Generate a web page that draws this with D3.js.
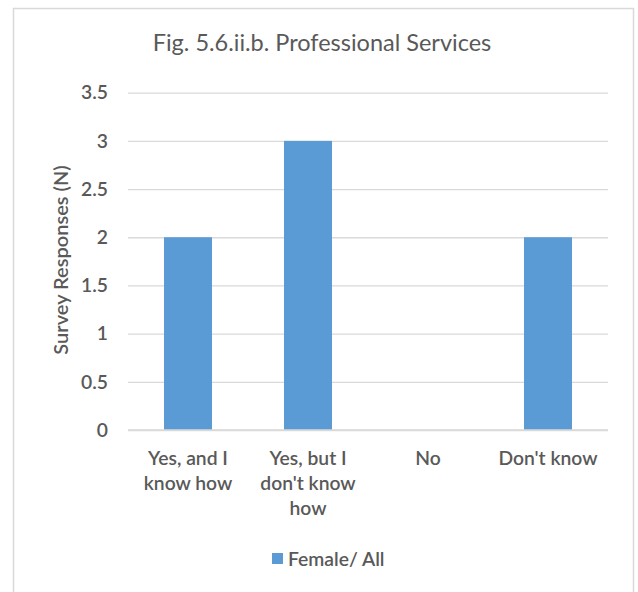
<!DOCTYPE html>
<html>
<head>
<meta charset="utf-8">
<script src="https://cdn.jsdelivr.net/npm/d3@7"></script>
<style>
  html, body { margin: 0; padding: 0; background: #fff; }
  svg { display: block; font-family: Lato, "Open Sans", sans-serif; }
</style>
</head>
<body>
<svg id="chart" width="638" height="592"></svg>
<script>
// Survey responses per answer
const categories = [["Yes, and I", "know how"], ["Yes, but I", "don't know", "how"], ["No"], ["Don't know"]];
const categoryKeys = ["Yes, and I know how", "Yes, but I don't know how", "No", "Don't know"];
const values = [2, 3, 0, 2];
const yTicks = [0, 0.5, 1, 1.5, 2, 2.5, 3, 3.5];
const yTickLabels = ["0", "0.5", "1", "1.5", "2", "2.5", "3", "3.5"];
const seriesName = "Female/ All";
const titleText = "Fig. 5.6.ii.b. Professional Services";
const yAxisTitle = "Survey Responses (N)";

const svg = d3.select("#chart");
const textColor = "#595959";
const barColor = "#5B9BD5";
const gridColor = "#D9D9D9";
const labelSize = 19.3;
const labelWeight = 600;

// Outer frame
svg.append("rect")
  .attr("x", 13.5).attr("y", 8.5)
  .attr("width", 620).attr("height", 600)
  .attr("fill", "none").attr("stroke", "#D9D9D9").attr("stroke-width", 1.5);

const plot = { left: 128, right: 608, top: 92.7, bottom: 430 };

const x = d3.scaleBand().domain(categoryKeys).range([plot.left, plot.right]).paddingInner(0.6).paddingOuter(0.3);
const y = d3.scaleLinear().domain([0, 3.5]).range([plot.bottom, plot.top]);

// Gridlines and y tick labels
const yAxis = d3.axisLeft(y).tickValues(yTicks).tickSize(-(plot.right - plot.left))
  .tickFormat((d, i) => yTickLabels[i]).tickPadding(20);
const gy = svg.append("g").attr("transform", `translate(${plot.left},0)`).call(yAxis);
gy.select(".domain").remove();
gy.selectAll(".tick line").attr("stroke", gridColor).attr("stroke-width", 1.3);
gy.selectAll(".tick text").attr("fill", textColor).attr("font-size", labelSize)
  .attr("font-weight", labelWeight).attr("font-family", "Lato, sans-serif");

// Bars
svg.append("g").selectAll("rect").data(values).join("rect")
  .attr("x", (d, i) => x(categoryKeys[i]))
  .attr("y", d => y(d))
  .attr("width", x.bandwidth())
  .attr("height", d => plot.bottom - y(d))
  .attr("fill", barColor);

// Baseline
svg.append("line")
  .attr("x1", plot.left).attr("x2", plot.right)
  .attr("y1", y(0)).attr("y2", y(0))
  .attr("stroke", gridColor).attr("stroke-width", 1.3);

// Category labels
const catG = svg.append("g");
categories.forEach((lines, i) => {
  const cx = x(categoryKeys[i]) + x.bandwidth() / 2;
  const t = catG.append("text").attr("text-anchor", "middle")
    .attr("fill", textColor).attr("font-size", labelSize).attr("font-weight", labelWeight);
  lines.forEach((ln, j) => {
    t.append("tspan").attr("x", cx).attr("y", 465 + j * 25).text(ln);
  });
});

// Title
svg.append("text").attr("x", 322).attr("y", 51)
  .attr("text-anchor", "middle").attr("fill", textColor)
  .attr("font-size", 23.5).text(titleText);

// Y axis title
svg.append("text")
  .attr("transform", `translate(68,260) rotate(-90)`)
  .attr("text-anchor", "middle").attr("fill", textColor)
  .attr("font-size", 20).attr("font-weight", labelWeight).text(yAxisTitle);

// Legend
svg.append("rect").attr("x", 272).attr("y", 553).attr("width", 11).attr("height", 11).attr("fill", barColor);
svg.append("text").attr("x", 288).attr("y", 566)
  .attr("fill", textColor).attr("font-size", labelSize).attr("font-weight", labelWeight).text(seriesName);
</script>
</body>
</html>
